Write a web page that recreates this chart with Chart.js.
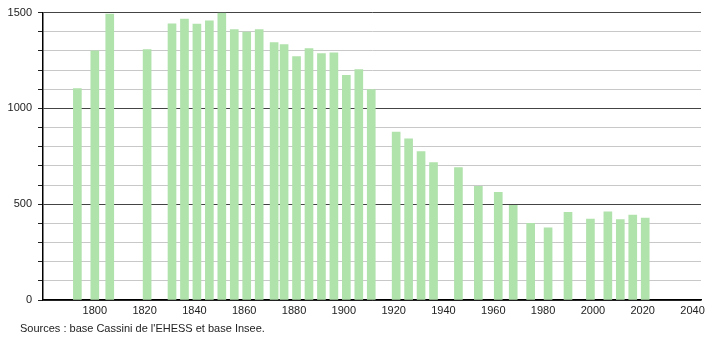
<!DOCTYPE html>
<html>
<head>
<meta charset="utf-8">
<script src="https://cdn.jsdelivr.net/npm/chart.js@4"></script>
<style>
    body { margin: 0; background: #fff; }
    #wrap { position: relative; width: 710px; height: 340px; }
    #source {
        position: absolute; left: 20px; top: 322px;
        font: 11px "Liberation Sans", Arial, sans-serif; color: #222;
    }
</style>
</head>
<body>
<div id="wrap">
    <canvas id="PopChart" width="710" height="340"></canvas>
    <div id="source">Sources : base Cassini de l'EHESS et base Insee.</div>
</div>
<script>
// années de recensement et population
var years = [1793, 1800, 1806, 1821, 1831, 1836, 1841, 1846, 1851, 1856, 1861, 1866,
    1872, 1876, 1881, 1886, 1891, 1896, 1901, 1906, 1911, 1921, 1926, 1931, 1936,
    1946, 1954, 1962, 1968, 1975, 1982, 1990, 1999, 2006, 2011, 2016, 2021];
var population = [1104, 1300, 1492, 1307, 1441, 1466, 1440, 1457, 1498, 1412, 1398, 1412,
    1343, 1333, 1271, 1312, 1286, 1290, 1172, 1202, 1098, 876, 841, 774, 717,
    691, 593, 562, 494, 400, 377, 458, 422, 460, 420, 443, 427];
var xTicks = [1800, 1820, 1840, 1860, 1880, 1900, 1920, 1940, 1960, 1980, 2000, 2020, 2040];
var yTicks = [0, 100, 200, 300, 400, 500, 600, 700, 800, 900, 1000, 1100, 1200, 1300, 1400, 1500];

var font = { family: '"Liberation Sans", Arial, sans-serif', size: 11 };

var PopChart = new Chart(
    document.getElementById('PopChart'), {
    type: 'bar',
    data: {
        datasets: [{
            data: years.map(function (y, i) { return { x: y, y: population[i] }; }),
            backgroundColor: 'rgb(176, 226, 172)',
            barThickness: 8,
            borderWidth: 0
        }]
    },
    options: {
        responsive: false,
        animation: false,
        layout: { padding: { top: 11, right: 9, left: 0, bottom: 0 } },
        plugins: {
            legend: { display: false },
            tooltip: { enabled: false }
        },
        scales: {
            x: {
                type: 'linear',
                offset: false,
                min: 1779.2,
                max: 2043.4,
                afterBuildTicks: function (axis) {
                    axis.ticks = xTicks.map(function (v) { return { value: v }; });
                },
                afterFit: function (axis) { axis.height = 40; },
                grid: { display: false, drawTicks: false, offset: false },
                border: { color: '#000', width: 1.5 },
                ticks: {
                    color: '#222',
                    font: font,
                    padding: 4,
                    maxRotation: 0,
                    callback: function (value) { return String(value); }
                }
            },
            y: {
                min: 0,
                max: 1500,
                afterBuildTicks: function (axis) {
                    axis.ticks = yTicks.map(function (v) { return { value: v }; });
                },
                afterFit: function (axis) { axis.width = 43; },
                grid: {
                    color: function (ctx) {
                        return ctx.tick.value % 500 === 0 ? '#444' : '#c8c8c8';
                    },
                    tickColor: '#222',
                    tickLength: 5
                },
                border: { color: '#000', width: 1.5 },
                ticks: {
                    color: '#222',
                    font: font,
                    padding: 6,
                    autoSkip: false,
                    callback: function (value) {
                        return value % 500 === 0 ? String(value) : '';
                    }
                }
            }
        }
    }
});
</script>
</body>
</html>
